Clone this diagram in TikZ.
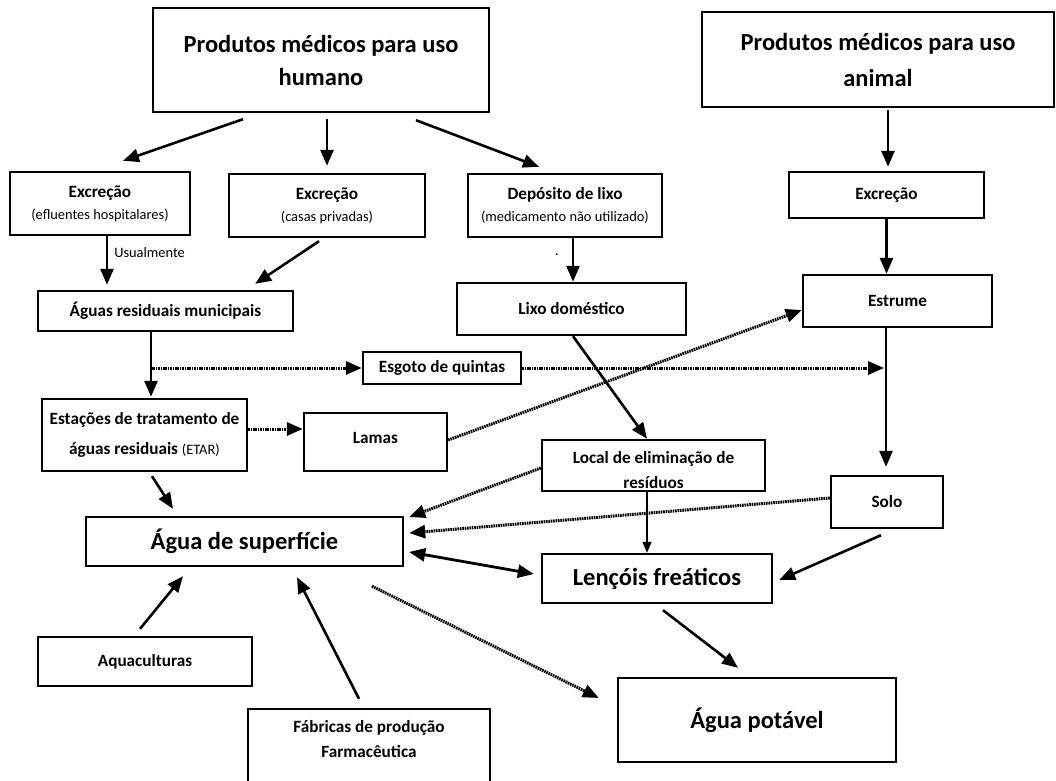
\documentclass[tikz,border=0pt]{standalone}
\usepackage{fontspec}
\setmainfont{Carlito}
\usetikzlibrary{arrows.meta,calc}
\newcommand\bigf{\fontsize{24.5}{33}\selectfont\bfseries}
\newcommand\medf{\fontsize{17.2}{22}\selectfont\bfseries}
\newcommand\smf{\fontsize{14.4}{18}\selectfont\mdseries}
\tikzset{
  box/.style={draw, line width=2.4pt, inner sep=0pt, align=center, font=\medf},
  arr/.style={line width=2.6pt, -{Triangle[length=16pt,width=13pt]}},
  darr/.style={line width=3pt, dash pattern=on 1.6pt off 0.8pt, -{Triangle[length=16pt,width=13pt]}},
  thinarr/.style={line width=1.4pt, -{Triangle[length=11pt,width=9pt]}},
  lbl/.style={font=\smf, inner sep=0pt}
}
\begin{document}
\begin{tikzpicture}[x=1pt,y=-1pt]
\useasboundingbox (0,0) rectangle (1056,780);
\fill[white] (0,0) rectangle (1056,780);
% boxes
\node[box, font=\bigf, minimum width=336pt, minimum height=104pt] (hum) at (321,60) {Produtos médicos para uso\\humano};
\node[box, font=\bigf, minimum width=352pt, minimum height=95pt] (ani) at (878,59.5) {Produtos médicos para uso\\[3pt]animal};
\node[box, minimum width=180pt, minimum height=63pt] (exh) at (100,203.5) {Excreção\\{\smf (efluentes hospitalares)}};
\node[box, minimum width=196pt, minimum height=63pt] (exc) at (327,205.5) {Excreção\\{\smf (casas privadas)}};
\node[box, minimum width=194pt, minimum height=63pt] (dep) at (565,205.5) {Depósito de lixo\\{\smf (medicamento não utilizado)}};
\node[box, minimum width=195pt, minimum height=46pt] (exa) at (886.5,195) {Excreção};
\node[box, minimum width=255pt, minimum height=40pt] (agr) at (165.5,311) {Águas residuais municipais};
\node[box, minimum width=229pt, minimum height=52pt] (lix) at (571.5,309) {Lixo doméstico};
\node[box, minimum width=189pt, minimum height=52pt] (est) at (897.5,301) {Estrume};
\node[box, minimum width=158pt, minimum height=32pt] (esg) at (442,368) {Esgoto de quintas};
\node[box, minimum width=205pt, minimum height=72pt] (etar) at (144.5,435) {Estações de tratamento de\\[8pt]águas residuais {\smf (ETAR)}};
\node[box, minimum width=143pt, minimum height=58pt, text depth=9pt] (lam) at (375.5,442) {Lamas};
\node[box, minimum width=223pt, minimum height=51pt, text height=46pt] (loc) at (653.5,465.5) {Local de eliminação de\\[3pt]resíduos};
\node[box, minimum width=112pt, minimum height=52pt] (sol) at (887,502) {Solo};
\node[box, font=\bigf, minimum width=317pt, minimum height=49pt] (agu) at (244.5,541.5) {Água de superfície};
\node[box, font=\bigf, minimum width=230pt, minimum height=49pt] (len) at (657,578.5) {Lençóis freáticos};
\node[box, minimum width=214pt, minimum height=49pt] (aqu) at (145,661.5) {Aquaculturas};
\node[box, minimum width=242pt, minimum height=74pt, text depth=13.5pt] (fab) at (369,746) {Fábricas de produção\\[3pt]Farmacêutica};
\node[box, font=\bigf, minimum width=278pt, minimum height=84pt] (pot) at (757,720) {Água potável};
\node[lbl] (dot) at (557,255) {.};
% solid arrows
\draw[arr] ($(hum.south)+(-78,6)$) -- ($(exh.north)+(23,-10)$);
\draw[arr] ($(hum.south -| exc.north)+(0,6)$) -- ($(exc.north)+(0,-7)$);
\draw[arr] ($(hum.south)+(95,7)$) -- ($(dep.north)+(-26,-6)$);
\draw[arr] ($(exh.south)+(7,0)$) -- ($(agr.north -| exh.south)+(7,-5)$)
  node[lbl, pos=0.33, anchor=west, xshift=6pt] {Usualmente};
\draw[arr] ($(exc.south)+(-8,3)$) -- ($(agr.north east)+(-39,-6)$);
\draw[arr] ($(dep.south)+(8,0)$) -- ($(lix.north -| dep.south)+(8,0)$);
\draw[arr] ($(ani.south -| exa.north)+(1.5,2)$) -- ($(exa.north)+(1.5,-4)$);
\draw[arr] (exa.south) -- (est.north -| exa.south);
\draw[arr] ($(est.south -| sol.north)+(-1,0)$) -- ($(sol.north)+(-1,-8)$);
\draw[arr] ($(agr.south)+(-14.5,0)$) -- ($(etar.north)+(6.5,-1)$);
\draw[arr] ($(lix.south)+(1.5,0)$) -- ($(loc.north)+(-6.5,0)$);
\draw[line width=2.8pt, {Triangle[length=16pt,width=13pt]}-{Triangle[length=16pt,width=13pt]}] ($(agu.east)+(5,10.5)$) -- ($(len.west)+(-7,-4.5)$);
\draw[thinarr] ($(loc.south)+(-6.5,0)$) -- ($(len.north)+(-10,0)$);
\draw[arr] ($(sol.south)+(-6,6)$) -- ($(len.east)+(6,1.5)$);
\draw[arr] ($(etar.south)+(7.5,4)$) -- ($(agu.north)+(-71.5,-7)$);
\draw[arr] ($(aqu.north)+(-5,-7)$) -- ($(agu.south)+(-61.5,9)$);
\draw[arr] ($(fab.north)+(-10,-9)$) -- ($(agu.south)+(52.5,10)$);
\draw[arr] ($(len.south)+(6,6)$) -- ($(pot.north)+(-19,-9)$);
% dotted arrows
\draw[darr] ($(esg.west -| agr.south)+(-14.5,0)$) -- (esg.west);
\draw[darr] (esg.east) -- ($(esg.east -| sol.north)+(-3,0)$);
\draw[darr] ($(etar.east)+(0,-6)$) -- ($(lam.west |- etar.east)+(0,-6)$);
\draw[darr] ($(lam.east)+(0,-2)$) -- ($(est.west)+(0,9)$);
\draw[darr] ($(loc.west)+(0,2.5)$) -- ($(agu.east)+(5,-24.5)$);
\draw[darr] ($(sol.west)+(0,-4)$) -- ($(agu.east)+(5,-8.5)$);
\draw[darr] ($(agu.south)+(127.5,19)$) -- ($(pot.west)+(-18,-22)$);
\end{tikzpicture}
\end{document}
